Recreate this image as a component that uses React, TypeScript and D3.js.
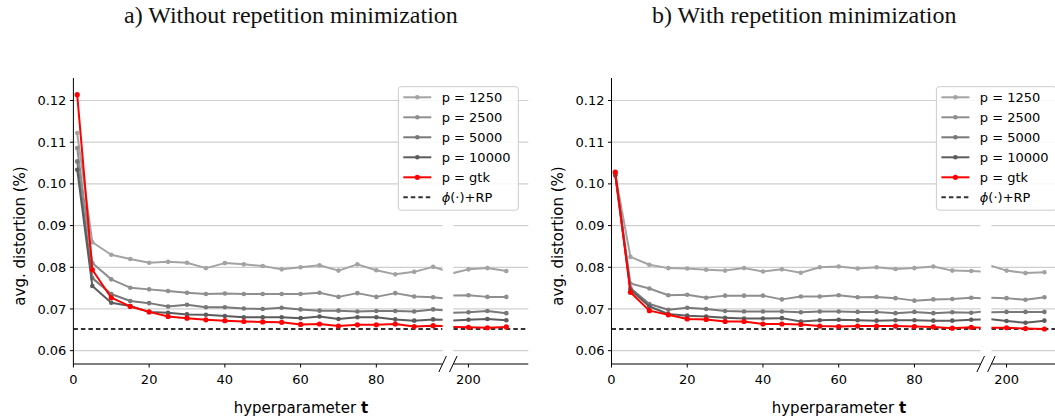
import React from "react";
import * as d3 from "d3";

// t values on the main (0..~97) stretch and on the broken-off tail around 200
const T_HEAD = [1, 5, 10, 15, 20, 25, 30, 35, 40, 45, 50, 55, 60, 65, 70, 75, 80, 85, 90, 95, 100];
const T_TAIL = [195, 200, 205, 210];

const SERIES_LABELS = ["p = 1250", "p = 2500", "p = 5000", "p = 10000", "p = gtk"];
const SERIES_COLORS = ["#a3a3a3", "#8f8f8f", "#787878", "#5c5c5c", "#ff0000"];
const BASELINE_LABEL = "+RP";
const BASELINE_VALUE = 0.0652;

const Y_TICKS = [0.06, 0.07, 0.08, 0.09, 0.1, 0.11, 0.12];
const X_TICKS_HEAD = [0, 20, 40, 60, 80];
const X_TICKS_TAIL = [200];

const TITLES = ["a) Without repetition minimization", "b) With repetition minimization"];

// a) without repetition minimization
const A_P1250_HEAD = [0.1122, 0.086, 0.083, 0.082, 0.0811, 0.0813, 0.0811, 0.0798, 0.081, 0.0807, 0.0803, 0.0795, 0.08, 0.0805, 0.0792, 0.0807, 0.0793, 0.0783, 0.0789, 0.0801, 0.0787];
const A_P2500_HEAD = [0.1086, 0.081, 0.0771, 0.0751, 0.0747, 0.0743, 0.0739, 0.0736, 0.0737, 0.0736, 0.0736, 0.0736, 0.0736, 0.0739, 0.0729, 0.0738, 0.0729, 0.0738, 0.073, 0.0728, 0.0724];
const A_P5000_HEAD = [0.1054, 0.0774, 0.0736, 0.0719, 0.0714, 0.0706, 0.071, 0.0704, 0.0704, 0.0701, 0.07, 0.0703, 0.0699, 0.0696, 0.0696, 0.0694, 0.0695, 0.0695, 0.0694, 0.0699, 0.0695];
const A_P10000_HEAD = [0.1034, 0.0755, 0.0715, 0.0707, 0.0693, 0.0691, 0.0687, 0.0686, 0.0683, 0.068, 0.068, 0.068, 0.0678, 0.0682, 0.0676, 0.068, 0.068, 0.0675, 0.0672, 0.0675, 0.0673];
const A_GTK_HEAD = [0.1214, 0.0794, 0.0727, 0.0706, 0.0693, 0.0682, 0.0678, 0.0674, 0.0672, 0.067, 0.0669, 0.0668, 0.0663, 0.0664, 0.0659, 0.0662, 0.0662, 0.0664, 0.0658, 0.066, 0.0658];
const A_P1250_TAIL = [0.0784, 0.0795, 0.0798, 0.0791];
const A_P2500_TAIL = [0.0732, 0.0733, 0.0729, 0.0729];
const A_P5000_TAIL = [0.0691, 0.0692, 0.0695, 0.069];
const A_P10000_TAIL = [0.0672, 0.0674, 0.0676, 0.0673];
const A_GTK_TAIL = [0.0657, 0.0656, 0.0655, 0.0657];

// b) with repetition minimization
const B_P1250_HEAD = [0.1022, 0.0825, 0.0806, 0.0798, 0.0797, 0.0794, 0.0792, 0.0798, 0.079, 0.0795, 0.0787, 0.08, 0.0802, 0.0797, 0.08, 0.0796, 0.0798, 0.0802, 0.0792, 0.0791, 0.0789];
const B_P2500_HEAD = [0.1024, 0.0761, 0.0749, 0.0733, 0.0734, 0.0727, 0.0732, 0.0732, 0.0732, 0.0723, 0.073, 0.073, 0.0733, 0.0728, 0.0729, 0.0726, 0.072, 0.0723, 0.0724, 0.0727, 0.0725];
const B_P5000_HEAD = [0.1022, 0.075, 0.0712, 0.0698, 0.0703, 0.07, 0.0695, 0.0694, 0.0694, 0.0694, 0.0692, 0.0694, 0.0694, 0.0693, 0.0693, 0.069, 0.0693, 0.069, 0.0692, 0.0691, 0.0695];
const B_P10000_HEAD = [0.102, 0.0746, 0.0706, 0.0688, 0.0684, 0.0682, 0.0679, 0.0677, 0.0677, 0.0678, 0.067, 0.0673, 0.0674, 0.0673, 0.0672, 0.0673, 0.0673, 0.0672, 0.0672, 0.0674, 0.0676];
const B_GTK_HEAD = [0.1028, 0.074, 0.0696, 0.0686, 0.0676, 0.0675, 0.067, 0.067, 0.0664, 0.0664, 0.0663, 0.0659, 0.0658, 0.0659, 0.0659, 0.0659, 0.0658, 0.0657, 0.0654, 0.0656, 0.0654];
const B_P1250_TAIL = [0.0806, 0.0792, 0.0786, 0.0788];
const B_P2500_TAIL = [0.0727, 0.0726, 0.0722, 0.0728];
const B_P5000_TAIL = [0.0692, 0.0693, 0.0693, 0.0693];
const B_P10000_TAIL = [0.0676, 0.0671, 0.0667, 0.0672];
const B_GTK_TAIL = [0.0655, 0.0655, 0.0653, 0.0652];

const PANELS = [
  {
    title: TITLES[0],
    titleX: 124,
    dx: 0,
    head: [A_P1250_HEAD, A_P2500_HEAD, A_P5000_HEAD, A_P10000_HEAD, A_GTK_HEAD],
    tail: [A_P1250_TAIL, A_P2500_TAIL, A_P5000_TAIL, A_P10000_TAIL, A_GTK_TAIL],
  },
  {
    title: TITLES[1],
    titleX: 652,
    dx: 538.1,
    head: [B_P1250_HEAD, B_P2500_HEAD, B_P5000_HEAD, B_P10000_HEAD, B_GTK_HEAD],
    tail: [B_P1250_TAIL, B_P2500_TAIL, B_P5000_TAIL, B_P10000_TAIL, B_GTK_TAIL],
  },
];

// geometry (panel-local)
const X0 = 73.4;
const X1 = 442.6;
const X2 = 453.3;
const X3 = 528.3;
const Y_TOP = 78;
const Y_BOT = 364;

const FONT = "'DejaVu Sans', sans-serif";

const y = d3.scaleLinear().domain([0.0568, 0.1254]).range([Y_BOT, Y_TOP]);
const xHead = d3.scaleLinear().domain([0, 97.5]).range([X0, X1]);
const xTail = d3.scaleLinear().domain([196, 215.8]).range([X2, X3]);

function Segment({ id, x, ts, series, x0, x1 }) {
  const line = d3
    .line<number>()
    .x((_, i) => x(ts[i]))
    .y((d) => y(d));
  return (
    <g>
      <clipPath id={id}>
        <rect x={x0} y={Y_TOP - 10} width={x1 - x0} height={Y_BOT - Y_TOP + 10} />
      </clipPath>
      {/* horizontal grid */}
      {Y_TICKS.map((t) => (
        <line key={t} x1={x0} x2={x1} y1={y(t)} y2={y(t)} stroke="#cfcfcf" strokeWidth={1.2} />
      ))}
      <g clipPath={`url(#${id})`}>
        <line
          x1={x0}
          x2={x1}
          y1={y(BASELINE_VALUE)}
          y2={y(BASELINE_VALUE)}
          stroke="#333"
          strokeWidth={2}
          strokeDasharray="4.5,3"
        />
        {series.map((vals, si) => (
          <g key={si}>
            <path d={line(vals) || ""} fill="none" stroke={SERIES_COLORS[si]} strokeWidth={2} strokeLinejoin="round" />
            {vals.map((v, i) => (
              <circle key={i} cx={x(ts[i])} cy={y(v)} r={si === 4 ? 2.6 : 2.3} fill={SERIES_COLORS[si]} />
            ))}
          </g>
        ))}
      </g>
      {/* bottom spine */}
      <line x1={x0} x2={x1} y1={Y_BOT} y2={Y_BOT} stroke="#000" strokeWidth={1} />
    </g>
  );
}

function Legend({ x0, y0 }) {
  const rows = [...SERIES_LABELS, BASELINE_LABEL];
  return (
    <g>
      <rect x={x0} y={y0} width={120} height={123.5} rx={3} fill="#fff" fillOpacity={0.85} stroke="#cccccc" strokeWidth={1} />
      {rows.map((label, i) => {
        const ry = y0 + 10.6 + i * 20;
        const isBase = i === SERIES_LABELS.length;
        return (
          <g key={i}>
            {isBase ? (
              <line x1={x0 + 5} x2={x0 + 33} y1={ry} y2={ry} stroke="#333" strokeWidth={2} strokeDasharray="4.5,3" />
            ) : (
              <g>
                <line x1={x0 + 5} x2={x0 + 33} y1={ry} y2={ry} stroke={SERIES_COLORS[i]} strokeWidth={2} />
                <circle cx={x0 + 19} cy={ry} r={i === 4 ? 2.6 : 2.3} fill={SERIES_COLORS[i]} />
              </g>
            )}
            <text x={x0 + 43.4} y={ry} dy="0.35em" fontSize={13} fontFamily={FONT} fill="#000">
              {isBase ? (
                <>
                  <tspan fontStyle="italic">ϕ</tspan>
                  <tspan>(·)</tspan>
                  {label}
                </>
              ) : (
                label
              )}
            </text>
          </g>
        );
      })}
    </g>
  );
}

function Panel({ p, idx }) {
  return (
    <g transform={`translate(${p.dx},0)`}>
      <text x={p.titleX - p.dx} y={23} fontSize={24} fontFamily="'Liberation Serif', serif" fill="#111">
        {p.title}
      </text>

      <Segment id={`clip-head-${idx}`} x={xHead} ts={T_HEAD} series={p.head} x0={X0} x1={X1} />
      <Segment id={`clip-tail-${idx}`} x={xTail} ts={T_TAIL} series={p.tail} x0={X2} x1={X3} />

      {/* left spine and y ticks */}
      <line x1={X0} x2={X0} y1={Y_TOP} y2={Y_BOT} stroke="#000" strokeWidth={1} />
      {Y_TICKS.map((t) => (
        <g key={t}>
          <line x1={X0 - 3.5} x2={X0} y1={y(t)} y2={y(t)} stroke="#000" strokeWidth={1} />
          <text x={X0 - 7} y={y(t)} dy="0.35em" textAnchor="end" fontSize={13} fontFamily={FONT} fill="#000">
            {t.toFixed(2)}
          </text>
        </g>
      ))}

      {/* x ticks */}
      {X_TICKS_HEAD.map((t) => (
        <g key={t}>
          <line x1={xHead(t)} x2={xHead(t)} y1={Y_BOT} y2={Y_BOT + 3.5} stroke="#000" strokeWidth={1} />
          <text x={xHead(t)} y={Y_BOT + 20} textAnchor="middle" fontSize={13} fontFamily={FONT} fill="#000">
            {t}
          </text>
        </g>
      ))}
      {X_TICKS_TAIL.map((t) => (
        <g key={t}>
          <line x1={xTail(t)} x2={xTail(t)} y1={Y_BOT} y2={Y_BOT + 3.5} stroke="#000" strokeWidth={1} />
          <text x={xTail(t)} y={Y_BOT + 20} textAnchor="middle" fontSize={13} fontFamily={FONT} fill="#000">
            {t}
          </text>
        </g>
      ))}

      {/* break marks */}
      {[X1, X2].map((bx) => (
        <line key={bx} x1={bx - 3.8} x2={bx + 3.8} y1={Y_BOT + 8} y2={Y_BOT - 8} stroke="#000" strokeWidth={1} />
      ))}

      <Legend x0={398.3} y0={86.7} />

      {/* axis labels */}
      <text
        transform={`translate(25,236) rotate(-90)`}
        textAnchor="middle"
        fontSize={15}
        fontFamily={FONT}
        fill="#000"
      >
        avg. distortion (%)
      </text>
      <text x={(X0 + X3) / 2} y={413} textAnchor="middle" fontSize={15} fontFamily={FONT} fill="#000">
        hyperparameter <tspan fontWeight="bold">t</tspan>
      </text>
    </g>
  );
}

export default function App() {
  return (
    <div style={{ position: "absolute", left: 0, top: 0, width: 1055, height: 419, overflow: "hidden", background: "#fff" }}>
      <svg width={1055} height={419} viewBox="0 0 1055 419">
        <rect width={1055} height={419} fill="#fff" />
        {PANELS.map((p, i) => (
          <Panel key={i} p={p} idx={i} />
        ))}
      </svg>
    </div>
  );
}
